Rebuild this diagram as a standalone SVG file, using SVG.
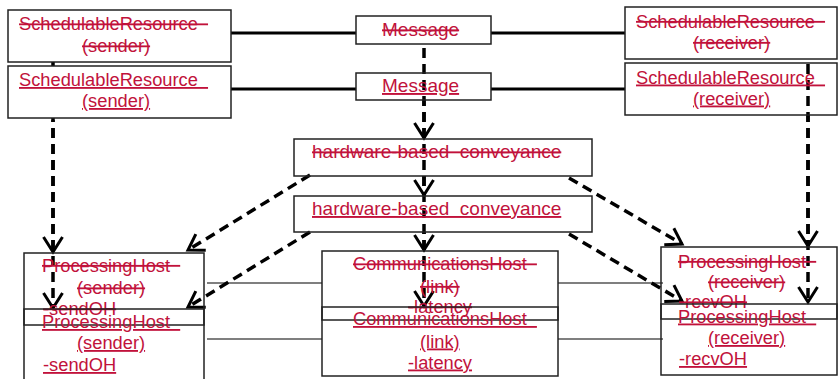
<svg xmlns="http://www.w3.org/2000/svg" width="839" height="379" viewBox="0 0 839 379">
<style>
.box{fill:none;stroke:#222;stroke-width:1.5}
.t{font-family:"Liberation Sans",Arial,sans-serif;font-size:18.3px;fill:#c1123b;white-space:pre}
.big{font-size:19px}
.old{text-decoration:line-through}
.new{text-decoration:underline}
.assoc{stroke:#000;stroke-width:3}
.thin{stroke:#555;stroke-width:1.5}
.dep{stroke:#000;stroke-width:3.5;stroke-dasharray:10 6;fill:none}
.arr{marker-end:url(#arr)}
</style>
<defs>
<marker id="arr" markerUnits="userSpaceOnUse" viewBox="-18 -12 20 24" refX="0" refY="0" markerWidth="20" markerHeight="24" orient="auto" overflow="visible">
<path d="M-15,-9.5 L0,0 L-15,9.5" fill="none" stroke="#000" stroke-width="3" stroke-dasharray="none"/>
</marker>
</defs>
<rect width="839" height="379" fill="#fff"/>

<g id="connectors">
<line class="assoc" x1="231" y1="33" x2="356" y2="33"/>
<line class="assoc" x1="491" y1="33" x2="625" y2="33"/>
<line class="assoc" x1="231" y1="89" x2="356" y2="89"/>
<line class="assoc" x1="491" y1="89" x2="625" y2="89"/>
<line class="thin" x1="207" y1="283" x2="322" y2="283"/>
<line class="thin" x1="558" y1="283" x2="663" y2="283"/>
<line class="thin" x1="207" y1="339" x2="322" y2="339"/>
<line class="thin" x1="558" y1="339" x2="663" y2="339"/>
<line class="dep" x1="53" y1="62" x2="53" y2="66"/>
<line class="dep arr" x1="53" y1="120" x2="53" y2="252" stroke-dashoffset="8"/>
<line class="dep arr" x1="808" y1="59" x2="808" y2="246" stroke-dashoffset="11"/>
<line class="dep arr" x1="424" y1="44" x2="424" y2="138" stroke-dashoffset="12"/>
<line class="dep arr" x1="424" y1="176" x2="424" y2="250" stroke-dashoffset="0"/>
<line class="dep arr" x1="310" y1="175" x2="188" y2="250"/>
<line class="dep arr" x1="569" y1="178" x2="682" y2="244"/>
<line class="dep arr" x1="53" y1="118" x2="53" y2="308" stroke-dashoffset="6"/>
<line class="dep arr" x1="808" y1="115" x2="808" y2="302" stroke-dashoffset="3"/>
<line class="dep arr" x1="424" y1="100" x2="424" y2="195" stroke-dashoffset="4"/>
<line class="dep arr" x1="424" y1="232" x2="424" y2="306" stroke-dashoffset="8"/>
<line class="dep arr" x1="310" y1="232" x2="188" y2="307"/>
<line class="dep arr" x1="569" y1="234" x2="682" y2="301"/>
</g>

<g id="sr-sender-old">
<rect class="box" x="8" y="10" width="223" height="52"/>
<text class="t old" x="19" y="30" xml:space="preserve">SchedulableResource  </text>
<text class="t old" x="82" y="52">(sender)</text>
</g>
<g id="sr-sender-new">
<rect class="box" x="8" y="66" width="223" height="52"/>
<text class="t new" x="19" y="86" xml:space="preserve">SchedulableResource  </text>
<text class="t new" x="82" y="107">(sender)</text>
</g>

<g id="message-old">
<rect class="box" x="356" y="16" width="135" height="28"/>
<text class="t big old" x="382" y="36">Message</text>
</g>
<g id="message-new">
<rect class="box" x="356" y="73" width="135" height="27"/>
<text class="t big new" x="382" y="92">Message</text>
</g>

<g id="sr-receiver-old">
<rect class="box" x="625" y="7" width="212" height="52"/>
<text class="t old" x="636" y="27.5" xml:space="preserve">SchedulableResource  </text>
<text class="t old" x="693" y="48.5">(receiver)</text>
</g>
<g id="sr-receiver-new">
<rect class="box" x="625" y="63" width="212" height="52"/>
<text class="t new" x="636" y="83.5" xml:space="preserve">SchedulableResource  </text>
<text class="t new" x="693" y="104.5">(receiver)</text>
</g>

<g id="conveyance-old">
<rect class="box" x="294" y="139" width="298" height="37"/>
<text class="t big old" x="312" y="158" xml:space="preserve">hardware-based  conveyance</text>
</g>
<g id="conveyance-new">
<rect class="box" x="294" y="196" width="298" height="36"/>
<text class="t big new" x="312" y="215" xml:space="preserve">hardware-based  conveyance</text>
</g>

<g id="ph-sender-old">
<rect class="box" x="24" y="253" width="180" height="72"/>
<text class="t old" x="42" y="271.5" xml:space="preserve">ProcessingHost  </text>
<text class="t old" x="77" y="294">(sender)</text>
<text class="t old" x="43" y="315">-sendOH</text>
</g>
<g id="ph-sender-new">
<rect class="box" x="24" y="309" width="180" height="72"/>
<text class="t new" x="42" y="328" xml:space="preserve">ProcessingHost  </text>
<text class="t new" x="77" y="349">(sender)</text>
<text class="t new" x="43" y="371">-sendOH</text>
</g>

<g id="comm-host-old">
<rect class="box" x="322" y="251" width="236" height="69"/>
<text class="t old" x="353" y="270" xml:space="preserve">CommunicationsHost  </text>
<text class="t old" x="420" y="292.5">(link)</text>
<text class="t old" x="408" y="313">-latency</text>
</g>
<g id="comm-host-new">
<rect class="box" x="322" y="307" width="236" height="69"/>
<text class="t new" x="353" y="325" xml:space="preserve">CommunicationsHost  </text>
<text class="t new" x="420" y="347.5">(link)</text>
<text class="t new" x="408" y="368.5">-latency</text>
</g>

<g id="ph-receiver-old">
<rect class="box" x="661" y="247" width="176" height="72"/>
<text class="t old" x="678" y="267.5" xml:space="preserve">ProcessingHost  </text>
<text class="t old" x="708" y="288">(receiver)</text>
<text class="t old" x="679" y="308">-recvOH</text>
</g>
<g id="ph-receiver-new">
<rect class="box" x="661" y="304" width="176" height="71"/>
<text class="t new" x="678" y="322.5" xml:space="preserve">ProcessingHost  </text>
<text class="t new" x="708" y="344">(receiver)</text>
<text class="t new" x="679" y="365">-recvOH</text>
</g>
</svg>
